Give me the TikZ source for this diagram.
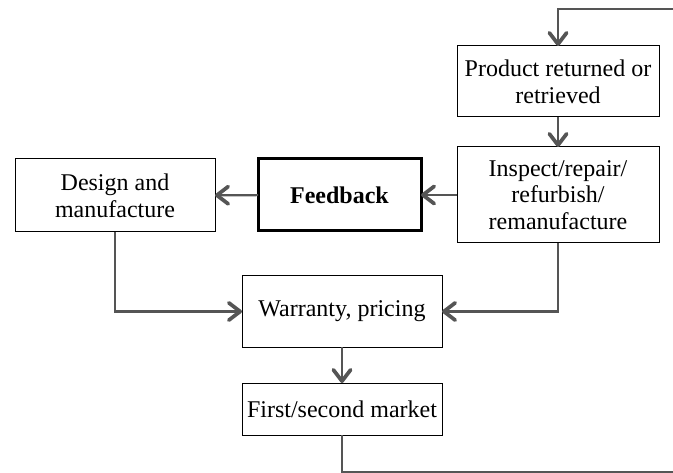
\documentclass[tikz,border=0pt]{standalone}
\usepackage{fontspec}
\setmainfont{Liberation Serif}
\usetikzlibrary{arrows.meta}

\tikzset{
  box/.style={draw, line width=0.75pt, inner sep=0pt, outer sep=0pt, align=center,
    font=\fontsize{18}{20}\selectfont},
  flow/.style={color={rgb, 255:red, 85; green, 85; blue, 85}, line width=1.6pt},
  flowarrow/.style={flow, -{Straight Barb[length=8.5pt,width=13pt,line width=2.8pt,round]}}
}

\begin{document}
\begin{tikzpicture}[x=0.75pt,y=0.75pt,yscale=-1,xscale=1]
\useasboundingbox (0,0) rectangle (673,473);
%Shape: Rectangle [id:prod] 
\draw (558,81.5) node [box, minimum width=151.5pt, minimum height=53.25pt] (prod) {Product returned or\\retrieved};
%Shape: Rectangle [id:insp] 
\draw (558,195) node [box, minimum width=151.5pt, minimum height=72pt] (insp) {Inspect/repair/\\refurbish/\\remanufacture};
%Shape: Rectangle [id:feed] 
\draw (339.5,195) node [box, line width=2.25pt, minimum width=122.25pt, minimum height=54pt] (feed) {\textbf{Feedback}};
%Shape: Rectangle [id:design] 
\draw (115,195.5) node [box, minimum width=150pt, minimum height=54.75pt] (design) {Design and\\manufacture};
%Shape: Rectangle [id:warr] 
\draw (342,311.5) node [box, minimum width=150pt, minimum height=53.25pt] (warr) {Warranty, pricing};
%Shape: Rectangle [id:first] 
\draw (342,409) node [box, minimum width=150pt, minimum height=39pt] (first) {First/second market};
% loose ends of the loop
\coordinate (loopin) at (673,9);
\coordinate (loopout) at (673,472);
%Straight Lines
\draw [flowarrow] (loopin) -- (prod.north |- loopin) -- (prod.north);
\draw [flowarrow] (prod) -- (insp);
\draw [flowarrow] (insp) -- (feed);
\draw [flowarrow] (feed) -- (design);
\draw [flowarrow] (design.south) |- (warr.west);
\draw [flowarrow] (insp.south) |- (warr.east);
\draw [flowarrow] (warr) -- (first);
\draw [flow] (first.south) |- (loopout);
\end{tikzpicture}
\end{document}
